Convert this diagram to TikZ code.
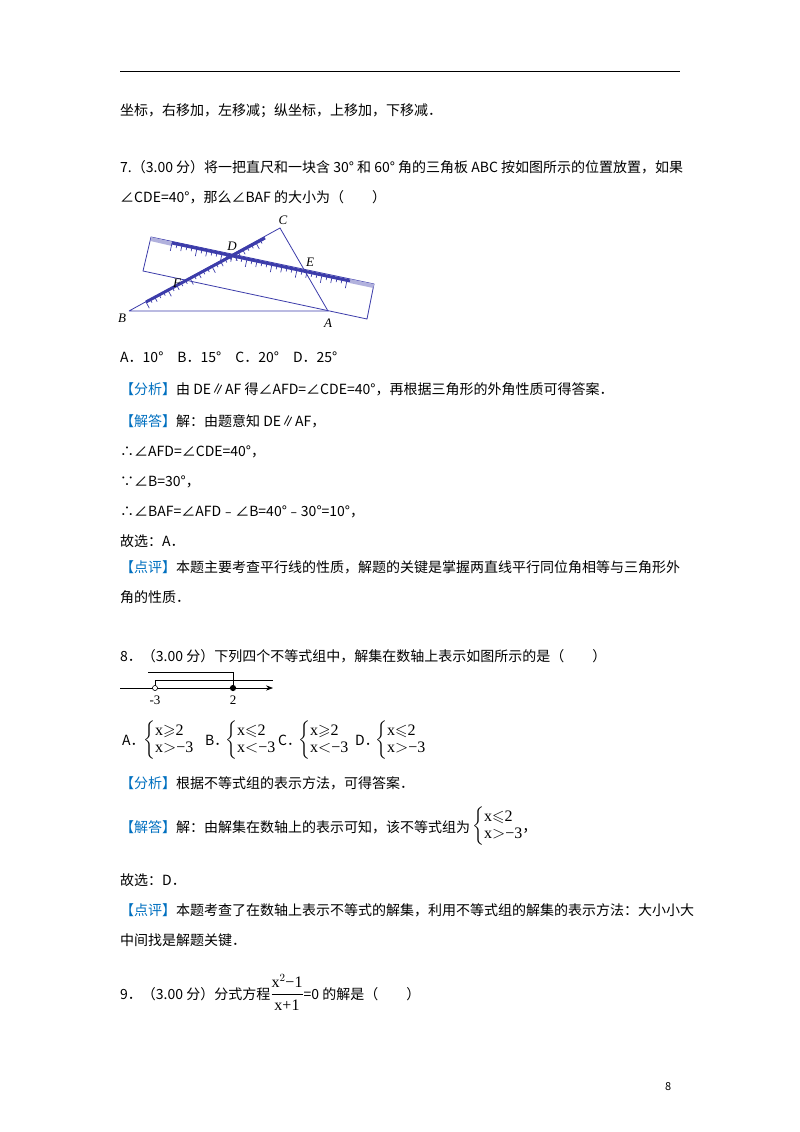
\documentclass[tikz,border=0pt]{standalone}
\usepackage{amsmath,amssymb}
\usepackage{fontspec}
\setmainfont{Noto Sans CJK SC}
\newfontfamily\lat{Liberation Serif}
\usetikzlibrary{arrows.meta}
\definecolor{kb}{RGB}{0,112,192}
\definecolor{rb}{RGB}{60,60,170}
\tikzset{t/.style={anchor=base west,inner sep=0pt,font=\fontsize{14}{16}\selectfont},
 lab/.style={inner sep=0pt,font=\fontsize{13}{15}\selectfont\lat\itshape},
 fig/.style={draw=rb,line width=0.8pt}}
\newcommand{\kk}[1]{\textcolor{kb}{【#1】}}
\newcommand{\sys}[2]{\fontsize{16}{18}\selectfont$\left\{\begin{array}{@{}l@{}}\text{\lat #1}\\[-1pt]\text{\lat #2}\end{array}\right.$}
\begin{document}
\begin{tikzpicture}[x=1pt,y=-1pt]
\useasboundingbox[fill=white] (0,0) rectangle (800,1132);
\draw[line width=1pt] (120,72) -- (680,72);
\node[t] (l0) at (120,115) {坐标，右移加，左移减；纵坐标，上移加，下移减．};
\node[t] (l1) at (120,172) {7.（3.00 分）将一把直尺和一块含 30° 和 60° 角的三角板 ABC 按如图所示的位置放置，如果};
\node[t] (l2) at (120,202) {∠CDE=40°，那么∠BAF 的大小为（\qquad）};
% figure
\coordinate (B) at (129,311); \coordinate (A) at (328,311); \coordinate (C) at (280,228);
\coordinate (R1) at (151,237); \coordinate (R2) at (143,271); \coordinate (R3) at (367,319); \coordinate (R4) at (374,284);
\draw[fig] (R1) -- (R2) -- (R3) -- (R4) -- cycle;
\fill[rb!40] (151,237) -- (173,242) -- (172,246) -- (150.5,241) -- cycle;
\fill[rb!40] (350,279) -- (374,284) -- (373.3,288) -- (349.5,283) -- cycle;
\draw[fig] (B) -- (C) -- (A) -- (B);
\draw[rb,line width=3pt] (172,243) -- (350,281);
\foreach \i in {0,...,35}{
 \pgfmathsetmacro\px{172+\i*5}\pgfmathsetmacro\py{243+\i*5*0.2135}
 \pgfmathsetmacro\len{mod(\i,5)==0?8:(mod(\i,5)==2?6:4)}
 \draw[rb,line width=0.7pt] (\px,\py) -- ++(-0.213*\len/1.02,\len/1.02);}
\draw[rb,line width=3pt] (146,302) -- (265,238);
\foreach \i in {0,...,26}{
 \pgfmathsetmacro\px{146+\i*4.4}\pgfmathsetmacro\py{302-\i*4.4*0.538}
 \pgfmathsetmacro\len{mod(\i,5)==0?7:(mod(\i,5)==2?5:3.5)}
 \draw[rb,line width=0.7pt] (\px,\py) -- ++(0.474*\len,0.88*\len);}
\node[lab] (lC) at (283,220) {C};
\node[lab] (lD) at (232,246) {D};
\node[lab] (lE) at (310,262) {E};
\node[lab] (lF) at (177,283) {F};
\node[lab] (lB) at (122,318) {B};
\node[lab] (lA) at (328,323) {A};
%
\node[t] (l3) at (120,362) {A．10°\quad B．15°\quad C．20°\quad D．25°};
\node[t] (l4) at (120,394) {\kk{分析}由 DE∥AF 得∠AFD=∠CDE=40°，再根据三角形的外角性质可得答案．};
\node[t] (l5) at (120,426) {\kk{解答}解：由题意知 DE∥AF，};
\node[t] (l6) at (120,456) {∴∠AFD=∠CDE=40°，};
\node[t] (l7) at (120,486) {∵∠B=30°，};
\node[t] (l8) at (120,516) {∴∠BAF=∠AFD﹣∠B=40°﹣30°=10°，};
\node[t] (l9) at (120,546) {故选：A．};
\node[t] (l10) at (120,572) {\kk{点评}本题主要考查平行线的性质，解题的关键是掌握两直线平行同位角相等与三角形外};
\node[t] (l11) at (120,602) {角的性质．};
\node[t] (l12) at (120,661) {8．（3.00 分）下列四个不等式组中，解集在数轴上表示如图所示的是（\qquad）};
% number line
\coordinate (N0) at (120,688); \coordinate (N1) at (273,688);
\draw[-{Stealth[length=7pt]},line width=0.7pt] (N0) -- (N1);
\draw[line width=0.7pt] (148,672) -- (233,672) -- (233,688);
\draw[line width=0.7pt] (155,688) -- (155,680) -- (273,680);
\node[circle,draw,fill=white,inner sep=1.8pt,line width=0.6pt] (p1) at (155,688) {};
\node[circle,fill=black,inner sep=2.2pt] (p2) at (233,688) {};
\node[inner sep=0pt,font=\fontsize{13}{15}\selectfont\lat] (m3) at (155,700) {-3};
\node[inner sep=0pt,font=\fontsize{13}{15}\selectfont\lat] (m2) at (233,700) {2};
\node[t] (oA) at (122,745) {A．};
\node[t,anchor=west,inner sep=0pt] (sA) at (143,740) {\sys{x$\geqslant$2}{x$>$−3}};
\node[t] (oB) at (205,745) {B．};
\node[t,anchor=west,inner sep=0pt] (sB) at (225,740) {\sys{x$\leqslant$2}{x$<$−3}};
\node[t] (oC) at (278,745) {C．};
\node[t,anchor=west,inner sep=0pt] (sC) at (298,740) {\sys{x$\geqslant$2}{x$<$−3}};
\node[t] (oD) at (355,745) {D．};
\node[t,anchor=west,inner sep=0pt] (sD) at (375,740) {\sys{x$\leqslant$2}{x$>$−3}};
\node[t] (l13) at (120,788) {\kk{分析}根据不等式组的表示方法，可得答案．};
\node[t] (l14) at (120,832) {\kk{解答}解：由解集在数轴上的表示可知，该不等式组为};
\node[t,anchor=west] (sE) at (472,826) {\sys{x$\leqslant$2}{x$>$−3},};
\node[t] (l15) at (120,885) {故选：D．};
\node[t] (l16) at (120,915) {\kk{点评}本题考查了在数轴上表示不等式的解集，利用不等式组的解集的表示方法：大小小大};
\node[t] (l17) at (120,945) {中间找是解题关键．};
\node[t] (l18) at (120,999) {9．（3.00 分）分式方程{\fontsize{16}{18}\selectfont$\dfrac{\text{\lat x}^2\text{\lat −1}}{\text{\lat x+1}}$}=0 的解是（\qquad）};
\node[t,font=\fontsize{11}{13}\selectfont] (pg) at (665,1090) {8};
\end{tikzpicture}
\end{document}
